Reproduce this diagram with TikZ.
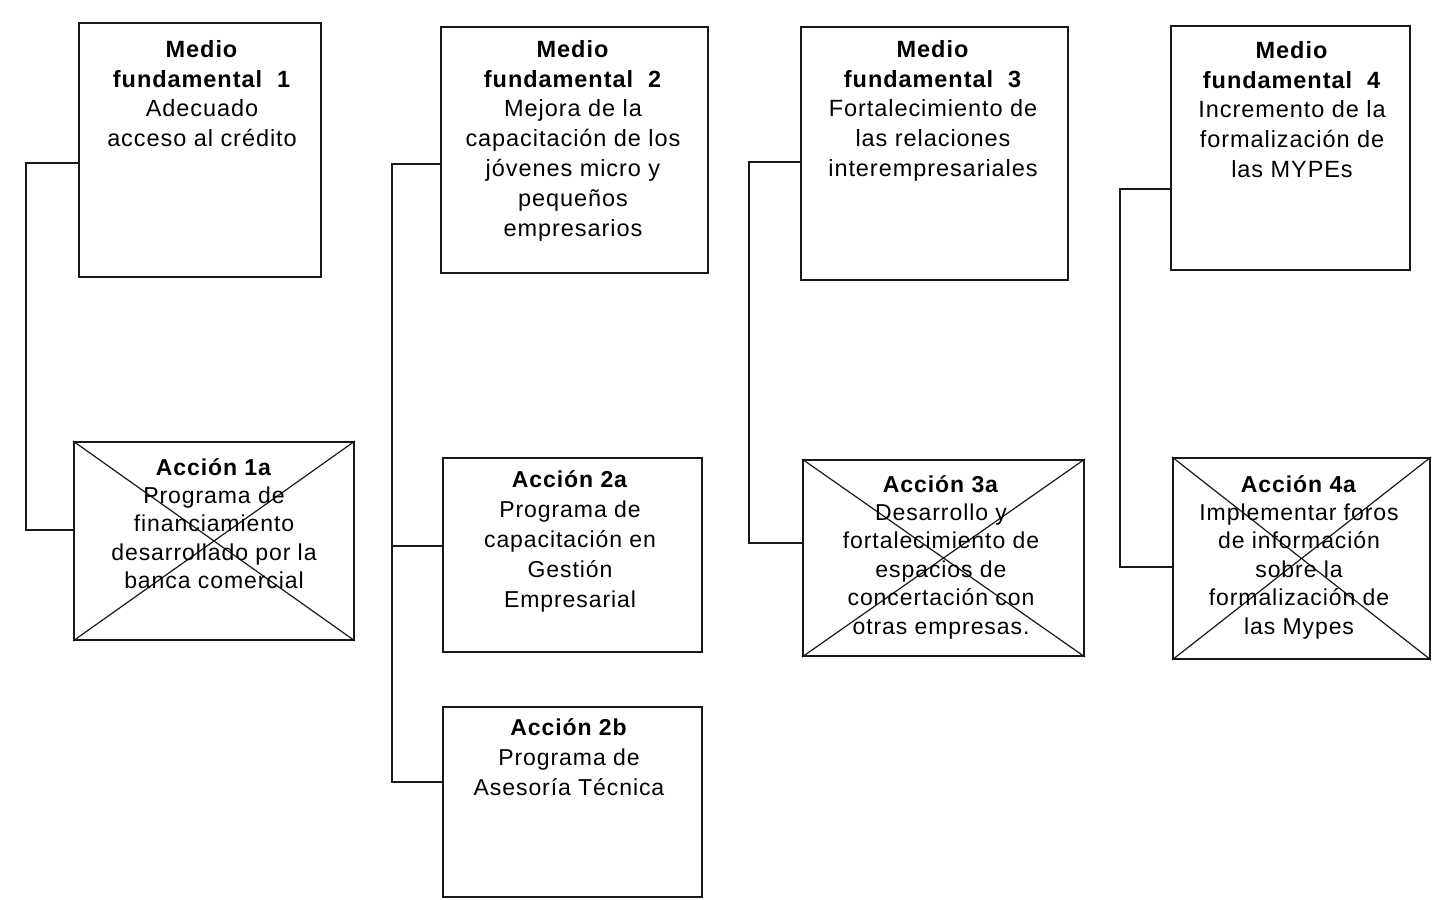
\documentclass[tikz,border=0pt]{standalone}
\usepackage{fontspec}
\setmainfont{Liberation Sans}[LetterSpace=4]
\usetikzlibrary{calc}
\tikzset{
  box/.style={draw=black!90, line width=2pt, inner sep=0pt},
  mftext/.style={anchor=north, align=center, inner sep=0pt, font=\fontsize{23.5}{29.8}\selectfont},
  actext/.style={anchor=north, align=center, inner sep=0pt, font=\fontsize{23}{28.4}\selectfont},
  actextb/.style={anchor=north, align=center, inner sep=0pt, font=\fontsize{23}{30}\selectfont},
  link/.style={draw=black!90, line width=1.8pt},
  linkthick/.style={draw=black!90, line width=2.6pt},
  cross/.style={draw=black!90, line width=1.2pt}
}
\begin{document}
\begin{tikzpicture}[x=1pt,y=-1pt]
\useasboundingbox[fill=white] (0,0) rectangle (1447,899);

% Medio fundamental boxes
\node[box, minimum width=242pt, minimum height=254pt] (mf1) at (200,150) {};
\node[box, minimum width=267pt, minimum height=246pt] (mf2) at (574.5,150) {};
\node[box, minimum width=267pt, minimum height=253pt] (mf3) at (934.5,153.5) {};
\node[box, minimum width=239pt, minimum height=244pt] (mf4) at (1290.5,148) {};

% Action boxes
\node[box, minimum width=280pt, minimum height=198pt] (a1a) at (214,541) {};
\node[box, minimum width=259pt, minimum height=194pt] (a2a) at (572.5,555) {};
\node[box, minimum width=259pt, minimum height=190pt] (a2b) at (572.5,802) {};
\node[box, minimum width=281pt, minimum height=196pt] (a3a) at (943.5,558) {};
\node[box, minimum width=257pt, minimum height=201pt] (a4a) at (1301.5,558.5) {};

% crosses
\draw[cross] (a1a.north west) -- (a1a.south east) (a1a.north east) -- (a1a.south west);
\draw[cross] (a3a.north west) -- (a3a.south east) (a3a.north east) -- (a3a.south west);
\draw[cross] (a4a.north west) -- (a4a.south east) (a4a.north east) -- (a4a.south west);

% texts
\node[mftext] (t1) at (202,40) {\textbf{Medio}\\\textbf{fundamental~ 1}\\Adecuado\\acceso al crédito};
\node[mftext] (t2) at (573,40) {\textbf{Medio}\\\textbf{fundamental~ 2}\\Mejora de la\\capacitación de los\\jóvenes micro y\\pequeños\\empresarios};
\node[mftext] (t3) at (933,40) {\textbf{Medio}\\\textbf{fundamental~ 3}\\Fortalecimiento de\\las relaciones\\interempresariales};
\node[mftext] (t4) at (1292,41) {\textbf{Medio}\\\textbf{fundamental~ 4}\\Incremento de la\\formalización de\\las MYPEs};

\node[actext] (u1) at (214,458) {\textbf{Acción 1a}\\Programa de\\financiamiento\\desarrollado por la\\banca comercial};
\node[actextb] (u2) at (570,470) {\textbf{Acción 2a}\\Programa de\\capacitación en\\Gestión\\Empresarial};
\node[actextb] (u3) at (569,718) {\textbf{Acción 2b}\\Programa de\\Asesoría Técnica};
\node[actext] (u4) at (941,475) {\textbf{Acción 3a}\\Desarrollo y\\fortalecimiento de\\espacios de\\concertación con\\otras empresas.};
\node[actext] (u5) at (1299,475) {\textbf{Acción 4a}\\Implementar foros\\de información\\sobre la\\formalización de\\las Mypes};

% connectors
\draw[link] (mf1.west |- 0,163) -- ++(-52,0) |- (a1a.west |- 0,530);
\draw[linkthick] (mf2.west |- 0,164) -- ++(-48,0) |- (a2b.west |- 0,782);
\draw[link] (a2a.west |- 0,546) -- ++(-50,0);
\draw[link] (mf3.west |- 0,162) -- ++(-51,0) |- (a3a.west |- 0,543);
\draw[link] (mf4.west |- 0,189) -- ++(-50,0) |- (a4a.west |- 0,567);
\end{tikzpicture}
\end{document}
